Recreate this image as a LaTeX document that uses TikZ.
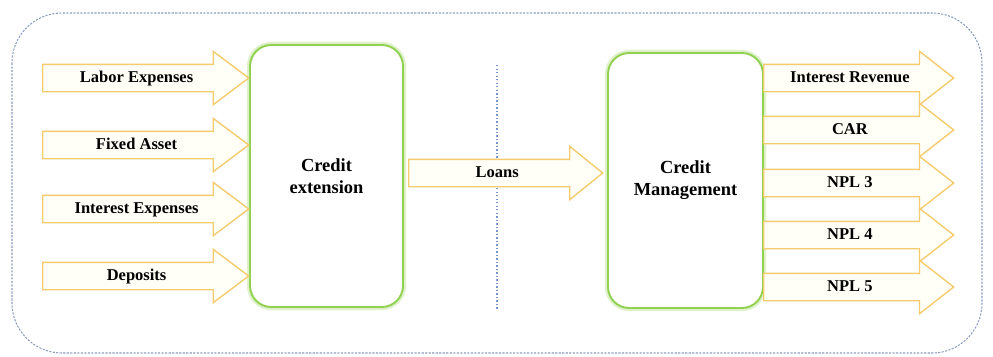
\documentclass[tikz,border=0pt]{standalone}
\usepackage{fontspec}
\setmainfont{Liberation Serif}
\usepackage{xcolor}
\usepackage{tikz}
\usetikzlibrary{shapes.arrows,positioning}
\definecolor{boxgreen}{RGB}{146,208,80}
\definecolor{flowgold}{RGB}{244,204,110}
\definecolor{frameblue}{RGB}{140,155,190}
\definecolor{splitblue}{RGB}{120,150,205}
\tikzset{
  block/.style={rectangle, rounded corners=12pt, draw=boxgreen, line width=1.1pt,
                preaction={draw=boxgreen!30, line width=3.5pt},
                fill=white, minimum width=3.06cm, minimum height=5.2cm,
                font=\fontsize{10.5}{12.5}\selectfont\bfseries, align=center},
  flow/.style={single arrow, draw=flowgold, fill=yellow!3, line width=0.8pt,
               single arrow head extend=0.26cm, single arrow tip angle=74,
               text height=0.21cm, text depth=0.03cm, inner ysep=0.14cm, inner xsep=2pt,
               minimum height=#1, font=\fontsize{9.4}{10}\selectfont\bfseries},
}
\begin{document}
\begin{tikzpicture}[x=0.02cm, y=-0.02cm]
  \useasboundingbox (0,0) rectangle (993,356);
  % outer frame
  \draw[frameblue, dash pattern=on 1.2pt off 0.8pt, rounded corners=1cm, line width=0.6pt]
        (12,13) rectangle (982,353);
  % divider
  \draw[splitblue, dash pattern=on 0.8pt off 1.2pt, line width=0.9pt] (497,65) -- (497,310);

  \node[block, minimum height=5.24cm] (ext) at (326.5,176) {Credit\\extension};
  \node[block, minimum width=3.1cm, minimum height=5.1cm] (mgmt) at (685.5,180.5)
        {Credit\\Management};

  % inputs
  \node[flow=4.12cm, anchor=tail] (labor) at (42,78) {Labor Expenses};
  \node[flow=4.12cm, anchor=tail] (fixed) at (42,145) {Fixed Asset};
  \node[flow=4.12cm, anchor=tail] (intexp) at (42,209) {Interest Expenses};
  \node[flow=4.12cm, anchor=tail] (depo) at (42,276) {Deposits};

  \node[flow=3.88cm, anchor=tail, single arrow tip angle=78] (loans) at (408,173) {Loans};

  % outputs
  \node[flow=3.8cm, anchor=tail, single arrow tip angle=76] (intrev) at (763,78) {Interest Revenue};
  \node[flow=3.8cm, anchor=tail, single arrow tip angle=76] (car) at (763,130) {CAR};
  \node[flow=3.8cm, anchor=tail, single arrow tip angle=76] (npl3) at (763,183) {NPL 3};
  \node[flow=3.8cm, anchor=tail, single arrow tip angle=76] (npl4) at (763,235) {NPL 4};
  \node[flow=3.8cm, anchor=tail, single arrow tip angle=76] (npl5) at (763,287) {NPL 5};
\end{tikzpicture}
\end{document}
